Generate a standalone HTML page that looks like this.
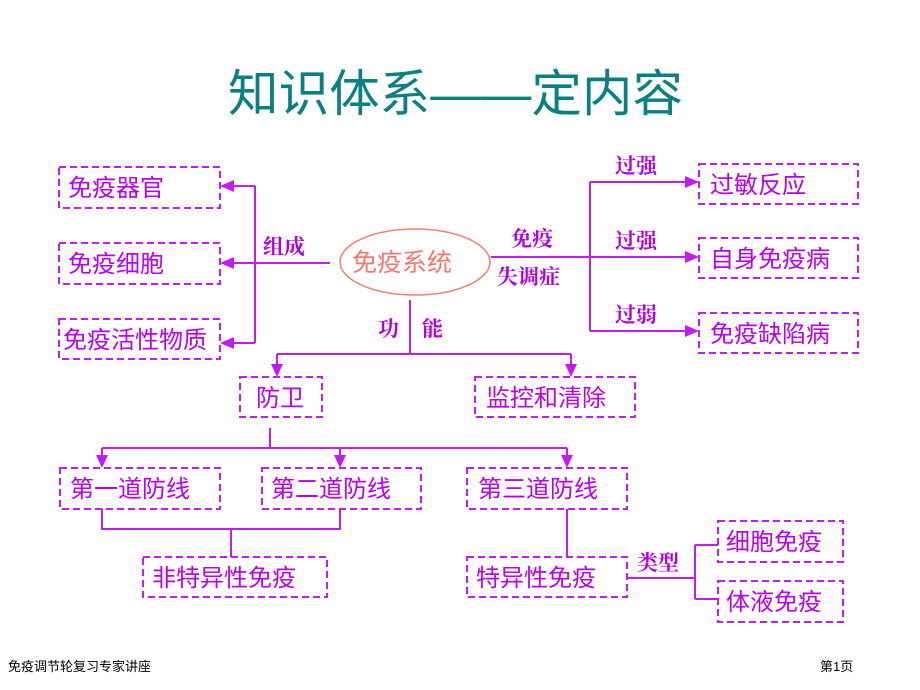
<!DOCTYPE html>
<html><head><meta charset="utf-8"><style>
body{margin:0;background:#fff;}
svg{display:block;}
text{font-family:"Liberation Sans","Noto Sans CJK SC",sans-serif;}
.b{fill:none;stroke:#c21cf0;stroke-width:2;stroke-dasharray:7 4;}
.l{fill:none;stroke:#c21cf0;stroke-width:2;}
.t{fill:#b800f0;font-size:24px;}
.s{fill:#b000e8;font-size:21px;font-weight:bold;font-family:"Noto Serif CJK SC","Noto Sans CJK SC",serif;}
.a{fill:#c21cf0;}
</style></head><body>
<svg width="920" height="690" viewBox="0 0 920 690">
<text x="228" y="111" font-size="50" fill="#0a8080" textLength="455" lengthAdjust="spacingAndGlyphs">知识体系——定内容</text>

<!-- left boxes -->
<rect class="b" x="59" y="167" width="161" height="41"/>
<text class="t" x="68" y="196">免疫器官</text>
<rect class="b" x="59" y="243" width="161" height="41"/>
<text class="t" x="68" y="272">免疫细胞</text>
<rect class="b" x="59" y="319" width="161" height="40"/>
<text class="t" x="63" y="348">免疫活性物质</text>
<path class="l" d="M330 263H222 M255 186V343 M255 186H222 M255 343H222"/>
<path class="a" d="M220 186l14-6v12z M220 263l14-6v12z M220 343l14-6v12z"/>
<text class="s" x="263" y="254">组成</text>

<!-- ellipse -->
<ellipse cx="415" cy="262" rx="75" ry="33" fill="none" stroke="#f08070" stroke-width="1.5"/>
<text x="352" y="271" font-size="25" fill="#f07a70">免疫系统</text>

<!-- right -->
<path class="l" d="M491 257H697 M590 182V331 M590 182H697 M590 331H697"/>
<path class="a" d="M699 182l-14-6v12z M699 257l-14-6v12z M699 331l-14-6v12z"/>
<text class="s" x="511" y="246">免疫</text>
<text class="s" x="497" y="284">失调症</text>
<text class="s" x="615" y="173">过强</text>
<text class="s" x="615" y="248">过强</text>
<text class="s" x="615" y="322">过弱</text>
<rect class="b" x="699" y="164" width="159" height="40"/>
<text class="t" x="710" y="193">过敏反应</text>
<rect class="b" x="699" y="238" width="159" height="40"/>
<text class="t" x="710" y="267">自身免疫病</text>
<rect class="b" x="699" y="313" width="159" height="40"/>
<text class="t" x="710" y="342">免疫缺陷病</text>

<!-- function -->
<path class="l" d="M410 300V354 M277 354H571 M277 354V367 M571 354V367"/>
<path class="a" d="M277 377l-6-13h12z M571 377l-6-13h12z"/>
<text class="s" x="378" y="336">功</text>
<text class="s" x="422" y="336">能</text>
<rect class="b" x="240" y="377" width="82" height="40"/>
<text class="t" x="256" y="406">防卫</text>
<rect class="b" x="475" y="377" width="160" height="40"/>
<text class="t" x="486" y="406">监控和清除</text>

<!-- lines of defense -->
<path class="l" d="M270 428V448 M102 448H567 M102 448V458 M340 448V458 M567 448V458"/>
<path class="a" d="M102 468l-6-13h12z M340 468l-6-13h12z M567 468l-6-13h12z"/>
<rect class="b" x="60" y="468" width="160" height="41"/>
<text class="t" x="70" y="497">第一道防线</text>
<rect class="b" x="262" y="468" width="159" height="41"/>
<text class="t" x="271" y="497">第二道防线</text>
<rect class="b" x="467" y="468" width="160" height="41"/>
<text class="t" x="478" y="497">第三道防线</text>

<path class="l" d="M102 509V529H340V509 M231 529V557 M567 509V557"/>
<rect class="b" x="143" y="557" width="184" height="40"/>
<text class="t" x="152" y="586">非特异性免疫</text>
<rect class="b" x="467" y="557" width="160" height="40"/>
<text class="t" x="476" y="586">特异性免疫</text>

<path class="l" d="M627 578H695 M695 545V599 M695 545H718 M695 599H718"/>
<text class="s" x="637" y="570">类型</text>
<rect class="b" x="718" y="521" width="125" height="41"/>
<text class="t" x="726" y="550">细胞免疫</text>
<rect class="b" x="718" y="581" width="125" height="41"/>
<text class="t" x="726" y="610">体液免疫</text>

<text x="8" y="671" font-size="13" fill="#000">免疫调节轮复习专家讲座</text>
<text x="820" y="671" font-size="13" fill="#000">第1页</text>
</svg>
</body></html>
